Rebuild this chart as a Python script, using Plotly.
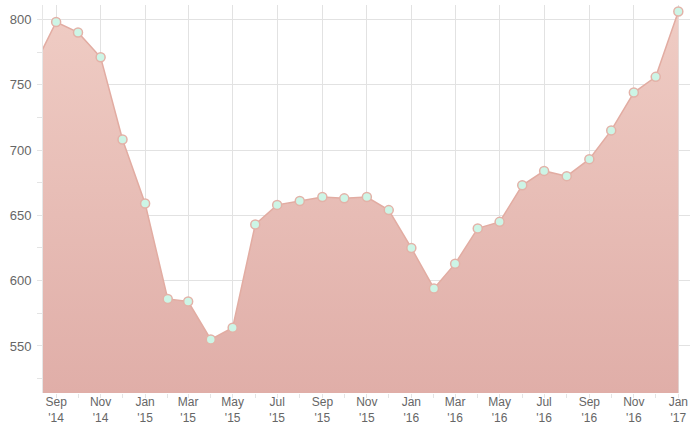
import plotly.graph_objects as go

months = ["2014-08-01", "2014-09-01", "2014-10-01", "2014-11-01", "2014-12-01",
          "2015-01-01", "2015-02-01", "2015-03-01", "2015-04-01", "2015-05-01",
          "2015-06-01", "2015-07-01", "2015-08-01", "2015-09-01", "2015-10-01",
          "2015-11-01", "2015-12-01", "2016-01-01", "2016-02-01", "2016-03-01",
          "2016-04-01", "2016-05-01", "2016-06-01", "2016-07-01", "2016-08-01",
          "2016-09-01", "2016-10-01", "2016-11-01", "2016-12-01", "2017-01-01"]
values = [763, 798, 790, 771, 708,
          659, 586, 584, 555, 564,
          643, 658, 661, 664, 663,
          664, 654, 625, 594, 613,
          640, 645, 673, 684, 680,
          693, 715, 744, 756, 806]

tick_vals = ["2014-09-01", "2014-11-01", "2015-01-01", "2015-03-01", "2015-05-01",
             "2015-07-01", "2015-09-01", "2015-11-01", "2016-01-01", "2016-03-01",
             "2016-05-01", "2016-07-01", "2016-09-01", "2016-11-01", "2017-01-01"]
tick_text = ["Sep<br>'14", "Nov<br>'14", "Jan<br>'15", "Mar<br>'15", "May<br>'15",
             "Jul<br>'15", "Sep<br>'15", "Nov<br>'15", "Jan<br>'16", "Mar<br>'16",
             "May<br>'16", "Jul<br>'16", "Sep<br>'16", "Nov<br>'16", "Jan<br>'17"]
y_ticks = [550, 600, 650, 700, 750, 800]

fig = go.Figure()
fig.add_trace(go.Scatter(
    x=months, y=values,
    mode="lines+markers",
    fill="tozeroy",
    fillgradient=dict(type="vertical",
                      colorscale=[[0, "#e0aea8"], [1, "#efccc4"]],
                      start=514, stop=806),
    line=dict(color="#e2aca2", width=1.5),
    marker=dict(size=9, color="#cdf5e6", line=dict(color="#e3b2a8", width=1.5)),
    cliponaxis=False,
    hoverinfo="x+y",
))

fig.update_layout(
    width=691, height=425,
    margin=dict(l=43, r=1, t=5, b=32),
    paper_bgcolor="white", plot_bgcolor="white",
    showlegend=False,
    font=dict(family="Liberation Sans, Arial, sans-serif", size=12, color="#666666"),
    xaxis=dict(
        type="date",
        range=["2014-08-14", "2017-01-17"],
        tickvals=tick_vals, ticktext=tick_text,
        showgrid=True, gridcolor="#e2e2e2", gridwidth=1,
        ticks="", zeroline=False, showline=False,
        tickfont=dict(size=12, color="#666666"),
        minor=dict(dtick="M1", ticks="outside", ticklen=4, tickcolor="#e4e4e4", showgrid=False),
    ),
    yaxis=dict(
        range=[514, 811],
        tickvals=y_ticks,
        showgrid=True, gridcolor="#e2e2e2", gridwidth=1,
        ticks="", zeroline=False,
        showline=True, linecolor="#e6e6e6", linewidth=1,
        ticklabelstandoff=8,
        tickfont=dict(size=13, color="#666666"),
        minor=dict(dtick=25, tick0=0, ticks="outside", ticklen=5, tickcolor="#e4e4e4", showgrid=False),
    ),
)

fig.write_html("out.html", config={"displayModeBar": False},
               post_script="document.body.style.margin='0';")
